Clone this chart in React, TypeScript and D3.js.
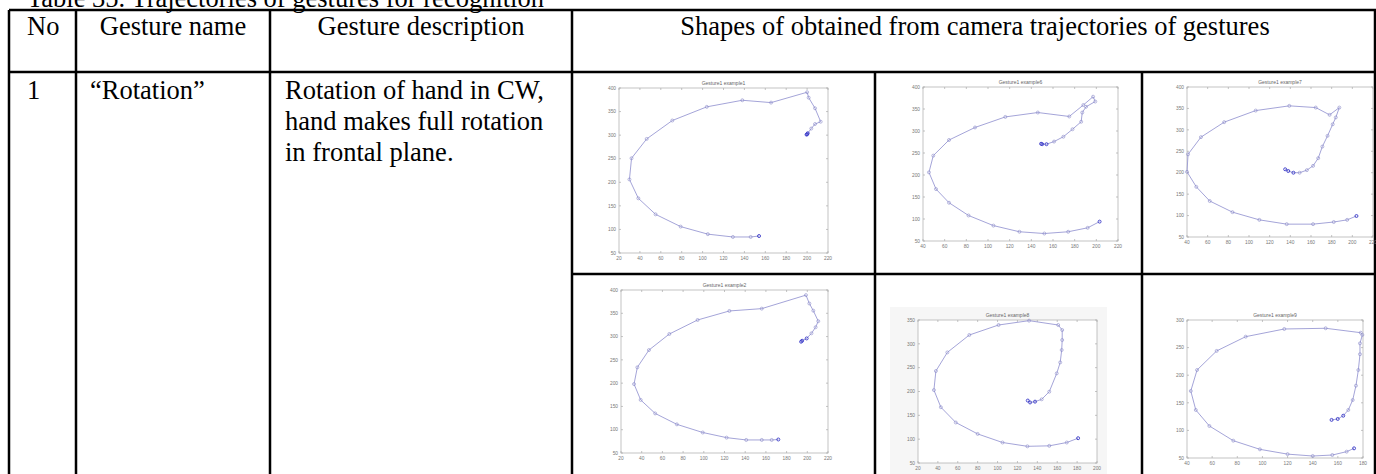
import React from "react";
import * as d3 from "d3";

const TITLE = "Table 35. Trajectories of gestures for recognition";
const HEADERS = ["No", "Gesture name", "Gesture description", "Shapes of obtained from camera trajectories of gestures"];
const ROW_NO = "1";
const ROW_NAME = "\u201cRotation\u201d";
const ROW_DESC = ["Rotation of hand in CW,", "hand makes full rotation", "in frontal plane."];

const plotTitles = ["Gesture1 example1", "Gesture1 example6", "Gesture1 example7", "Gesture1 example2", "Gesture1 example8", "Gesture1 example9"];

const ex1X = [154, 146, 129, 105, 79, 55, 38.5, 30, 32, 46.5, 71, 104, 138, 165.5, 200, 201.5, 207.6, 213, 207.6, 204, 200.6, 200, 199.5];
const ex1Y = [86, 84, 84, 90, 106, 132, 166, 206, 251, 292, 331, 360, 374, 369, 391, 379.5, 357, 328.5, 323.6, 314, 304, 302, 301];

const ex2X = [203, 192, 174, 152, 129, 105, 82, 64, 52, 45.5, 49.5, 64, 88, 116, 146, 175, 188, 197, 199, 190.5, 187, 186, 178, 169.6, 161, 154, 150, 149];
const ex2Y = [94, 80, 71, 67, 71, 85, 108, 137, 168, 206, 244, 279.5, 308, 332, 342, 333, 359, 378, 367, 355, 342, 321, 304, 287, 276, 270, 270, 271];

const ex3X = [204, 195, 182, 162, 136.5, 110, 84, 62, 49, 40, 41, 53.5, 76, 106.5, 139, 164.6, 178, 187.4, 184, 181, 176, 171, 167, 162, 156, 149, 143, 138, 135];
const ex3Y = [99, 90, 85, 80, 80, 90, 108, 134, 167, 202, 243, 283, 318, 345, 356, 352, 335, 352, 329, 313, 286, 261, 234, 216, 206, 200, 200, 204, 208];

const ex4X = [172, 165.6, 156, 141, 122, 99, 74, 53, 39, 32.6, 35.8, 47, 66.7, 94, 124.7, 156, 198.7, 202, 205.8, 210.6, 208, 204, 199.4, 195, 194];
const ex4Y = [79, 78, 78, 78, 83, 94, 111.5, 135, 164, 198, 234, 271, 305.5, 335.6, 355, 360, 389, 371, 355.6, 333, 320, 307, 296, 291, 289];

const ex5X = [181, 169.6, 152, 130, 105, 80, 58, 43, 36, 38, 49.5, 71.6, 101, 131.7, 161, 165, 165, 164.5, 163, 159.5, 152, 144.4, 137.7, 132.7, 130.4];
const ex5Y = [102, 93, 86, 85, 93, 111, 135, 167, 203, 243, 282, 318.5, 339.5, 348.6, 339.5, 329, 308, 287, 261, 238, 199.6, 183.6, 178.7, 177, 181];

const ex6X = [172.9, 167, 155.6, 140, 120, 98, 76.8, 57.8, 47, 43, 48, 63.6, 86.7, 117.4, 150.3, 178.2, 179.5, 177.6, 177.6, 176.3, 174.4, 171.8, 168.3, 164.3, 159.9, 155];
const ex6Y = [67.5, 61.5, 55.4, 53.6, 57, 65.7, 81.4, 108, 137, 171.4, 209.4, 244, 269.8, 283.7, 285, 277, 273, 257.7, 238, 209.4, 181, 155, 137, 126.6, 120.7, 119];

const xDomains: [number, number][] = [[20, 220], [40, 220], [40, 220], [20, 220], [20, 200], [40, 180]];
const yDomains: [number, number][] = [[50, 400], [50, 400], [50, 400], [50, 400], [50, 350], [50, 300]];
const tickStepX = 20;
const tickStepY = 50;

// layout (pixel boxes of plot frames)
const frames = [
  { x0: 619, x1: 828, y0: 88, y1: 253 },
  { x0: 923, x1: 1118, y0: 87, y1: 241 },
  { x0: 1187, x1: 1373, y0: 87, y1: 237 },
  { x0: 621, x1: 828, y0: 290, y1: 453 },
  { x0: 918, x1: 1097, y0: 320, y1: 463, bg: true },
  { x0: 1187, x1: 1363, y0: 320, y1: 458 },
];

const seriesX = [ex1X, ex2X, ex3X, ex4X, ex5X, ex6X];
const seriesY = [ex1Y, ex2Y, ex3Y, ex4Y, ex5Y, ex6Y];

const SERIF = "'Liberation Serif', 'Times New Roman', serif";
const FS = 26.5;

function Plot({ i }: { i: number }) {
  const f = frames[i];
  const xs = d3.scaleLinear().domain(xDomains[i]).range([f.x0, f.x1]);
  const ys = d3.scaleLinear().domain(yDomains[i]).range([f.y1, f.y0]);
  const xt = d3.range(xDomains[i][0], xDomains[i][1] + 0.001, tickStepX);
  const yt = d3.range(yDomains[i][0], yDomains[i][1] + 0.001, tickStepY);
  const pts = seriesX[i].map((x, k) => [x, seriesY[i][k]] as [number, number]);
  const line = d3.line<[number, number]>().x((d) => xs(d[0])).y((d) => ys(d[1]));
  const n = pts.length;
  const lineCol = "#9a9ad4";
  const darkCol = "#3a3ac8";
  const tl = 2;
  return (
    <g>
      {f.bg && (
        <rect x={f.x0 - 28} y={f.y0 - 13} width={f.x1 - f.x0 + 38} height={f.y1 - f.y0 + 26} fill="#f6f6f6" />
      )}
      <rect x={f.x0} y={f.y0} width={f.x1 - f.x0} height={f.y1 - f.y0} fill="#fff" stroke="#b4b4b4" strokeWidth={0.8} />
      {xt.map((t) => (
        <g key={"x" + t}>
          <line x1={xs(t)} x2={xs(t)} y1={f.y1} y2={f.y1 - tl} stroke="#aaa" strokeWidth={0.7} />
          <line x1={xs(t)} x2={xs(t)} y1={f.y0} y2={f.y0 + tl} stroke="#aaa" strokeWidth={0.7} />
          <text x={xs(t)} y={f.y1 + 7} fontSize={4.8} fill="#777" textAnchor="middle" fontFamily="'Liberation Sans', Arial, sans-serif">{t}</text>
        </g>
      ))}
      {yt.map((t) => (
        <g key={"y" + t}>
          <line x1={f.x0} x2={f.x0 + tl} y1={ys(t)} y2={ys(t)} stroke="#aaa" strokeWidth={0.7} />
          <line x1={f.x1} x2={f.x1 - tl} y1={ys(t)} y2={ys(t)} stroke="#aaa" strokeWidth={0.7} />
          <text x={f.x0 - 3} y={ys(t) + 1.7} fontSize={4.8} fill="#777" textAnchor="end" fontFamily="'Liberation Sans', Arial, sans-serif">{t}</text>
        </g>
      ))}
      <text x={(f.x0 + f.x1) / 2} y={f.y0 - 3} fontSize={5} fill="#666" textAnchor="middle" fontFamily="'Liberation Sans', Arial, sans-serif">{plotTitles[i]}</text>
      <path d={line(pts) || ""} fill="none" stroke={lineCol} strokeWidth={0.9} />
      {pts.map((p, k) => {
        const dark = k === 0 || k >= n - 3;
        return (
          <circle key={k} cx={xs(p[0])} cy={ys(p[1])} r={1.5} fill="none" stroke={dark ? darkCol : "#8a8ac8"} strokeWidth={dark ? 0.9 : 0.6} />
        );
      })}
    </g>
  );
}

export default function App() {
  const lw = 2.5;
  const vLeft = [9, 76, 270, 572, 1375];
  const vPlots = [875, 1142];
  return (
    <svg width={1376} height={474} style={{ position: "absolute", left: 0, top: 0, background: "#fff" }}>
      <rect x={0} y={0} width={1376} height={474} fill="#fff" />
      <text x={27} y={7} fontSize={FS} fontFamily={SERIF} fill="#000">{TITLE}</text>
      {/* table lines */}
      <line x1={9} x2={1376} y1={10} y2={10} stroke="#000" strokeWidth={lw} />
      <line x1={9} x2={1376} y1={72} y2={72} stroke="#000" strokeWidth={lw} />
      <line x1={572} x2={1376} y1={274} y2={274} stroke="#000" strokeWidth={lw} />
      {vLeft.map((x) => (
        <line key={x} x1={x} x2={x} y1={10} y2={474} stroke="#000" strokeWidth={lw} />
      ))}
      {vPlots.map((x) => (
        <line key={x} x1={x} x2={x} y1={72} y2={474} stroke="#000" strokeWidth={lw} />
      ))}
      {/* header */}
      <text x={27} y={35} fontSize={FS} fontFamily={SERIF}>{HEADERS[0]}</text>
      <text x={173} y={35} fontSize={FS} fontFamily={SERIF} textAnchor="middle">{HEADERS[1]}</text>
      <text x={421} y={35} fontSize={FS} fontFamily={SERIF} textAnchor="middle">{HEADERS[2]}</text>
      <text x={975} y={35} fontSize={FS} fontFamily={SERIF} textAnchor="middle">{HEADERS[3]}</text>
      {/* body */}
      <text x={27} y={99} fontSize={FS} fontFamily={SERIF}>{ROW_NO}</text>
      <text x={90} y={99} fontSize={FS} fontFamily={SERIF}>{ROW_NAME}</text>
      {ROW_DESC.map((s, k) => (
        <text key={k} x={285} y={99 + k * 31} fontSize={FS} fontFamily={SERIF}>{s}</text>
      ))}
      {frames.map((_, i) => (
        <Plot key={i} i={i} />
      ))}
    </svg>
  );
}
